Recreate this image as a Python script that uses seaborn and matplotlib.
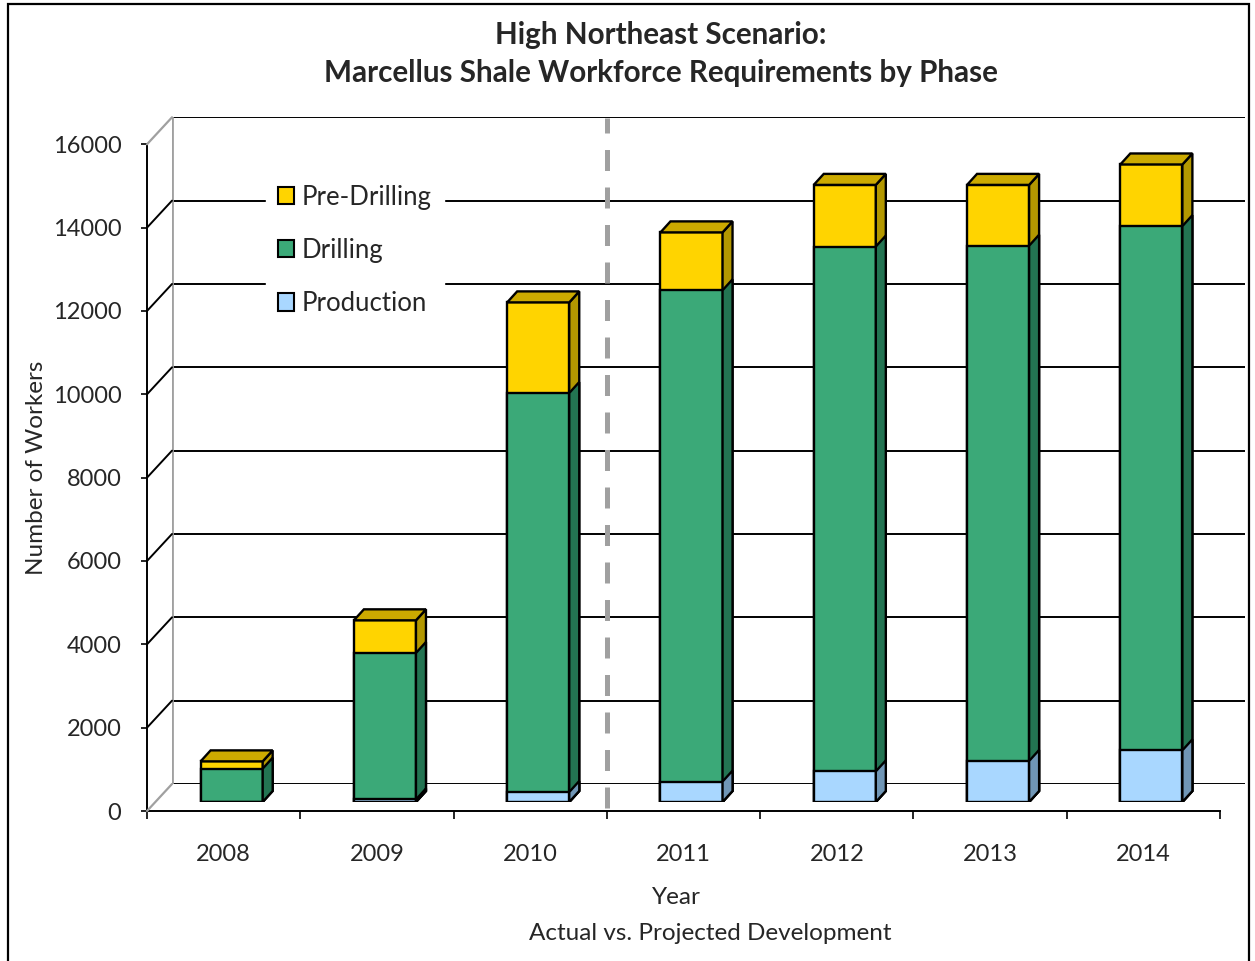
import numpy as np
import pandas as pd
import seaborn as sns
import matplotlib.pyplot as plt
import matplotlib.transforms as mtransforms
from matplotlib.patches import Polygon, Rectangle, Patch
from matplotlib.lines import Line2D

# ---- data ----
years = ['2008', '2009', '2010', '2011', '2012', '2013', '2014']
production = [0, 60, 240, 490, 735, 985, 1240]
drilling = [800, 3516, 9575, 11790, 12595, 12365, 12580]
pre_drilling = [175, 784, 2175, 1390, 1480, 1460, 1480]
y_ticks = [0, 2000, 4000, 6000, 8000, 10000, 12000, 14000, 16000]

df = pd.DataFrame({'Year': years, 'Production': production,
                   'Drilling': drilling, 'Pre-Drilling': pre_drilling})
df['drill_top'] = df['Production'] + df['Drilling']
df['total'] = df['drill_top'] + df['Pre-Drilling']

front = {'Pre-Drilling': '#FFD400', 'Drilling': '#3BA978', 'Production': '#A9D7FF'}
side = {'Pre-Drilling': '#B39800', 'Drilling': '#237452', 'Production': '#7096B6'}
top = {'Pre-Drilling': '#CCAA00'}

sns.set_theme(style='white')
plt.rcParams['font.family'] = ['Lato', 'DejaVu Sans']

W, H = 1255, 961
fig = plt.figure(figsize=(W / 100, H / 100), dpi=100)
fig.patch.set_facecolor('white')


def rect(left, bottom, width=1073, height=666.7):
    # pixel box (top-left origin for bottom) -> figure fraction
    return [left / W, 1 - bottom / H, width / W, height / H]


# back wall, bar plane, front plane (3d look via shifted axes)
ax_back = fig.add_axes(rect(172, 784))
ax = fig.add_axes(rect(155, 802))
ax_front = fig.add_axes(rect(147, 811))
for a in (ax_back, ax, ax_front):
    a.set_xlim(-0.5, 6.5)
    a.set_ylim(0, 16000)
    a.set_facecolor('none')

# back wall gridlines
for v in y_ticks:
    ax_back.axhline(v, color='black', lw=1.4, zorder=1)
ax_back.axis('off')
ax_back.axvline(-0.5, color='#A0A0A0', lw=2, zorder=1)

# side-wall diagonals
for v in y_ticks:
    p0 = ax_front.transData.transform((-0.5, v))
    p1 = ax_back.transData.transform((-0.5, v))
    c = '#A0A0A0' if v in (0, 16000) else 'black'
    fig.add_artist(Line2D([p0[0], p1[0]], [p0[1], p1[1]], color=c,
                          lw=1.6 if c != 'black' else 1.4,
                          transform=mtransforms.IdentityTransform()))

# stacked bars, drawn as overlapping cumulative layers
dx, dy = 10, 11
ident = mtransforms.IdentityTransform()
layers = [('total', 'Pre-Drilling'), ('drill_top', 'Drilling'), ('Production', 'Production')]
for col, key in layers:
    n_before = len(ax.patches)
    sns.barplot(data=df, x='Year', y=col, color=front[key], saturation=1,
                edgecolor='black', linewidth=1.7, width=0.405, errorbar=None, ax=ax)
    new_bars = ax.patches[n_before:]
    for bar in new_bars:
        x0, y0 = bar.get_x(), bar.get_y()
        x1, y1 = x0 + bar.get_width(), y0 + bar.get_height()
        if bar.get_height() <= 0:
            continue
        (ax0, ay0) = ax.transData.transform((x0, y0))
        (ax1, ay1) = ax.transData.transform((x1, y1))
        sf = Polygon([(ax1, ay0), (ax1, ay1), (ax1 + dx, ay1 + dy), (ax1 + dx, ay0 + dy)],
                     closed=True, facecolor=side[key], edgecolor='black', lw=1.7,
                     transform=ident)
        ax.add_patch(sf)
        if key in top:
            tf = Polygon([(ax0, ay1), (ax1, ay1), (ax1 + dx, ay1 + dy), (ax0 + dx, ay1 + dy)],
                         closed=True, facecolor=top[key], edgecolor='black', lw=1.7,
                         transform=ident)
            ax.add_patch(tf)
ax.set_xlim(-0.5, 6.5)
ax.set_ylim(0, 16000)
ax.axis('off')

# front axis: spines, ticks, labels
sns.despine(ax=ax_front)
ax_front.spines['left'].set_color('black')
ax_front.spines['bottom'].set_color('black')
ax_front.spines['left'].set_linewidth(1.4)
ax_front.spines['bottom'].set_linewidth(1.4)
ax_front.set_yticks(y_ticks)
ax_front.set_yticklabels([str(v) for v in y_ticks])
ax_front.set_xticks(np.arange(-0.5, 7, 1))
ax_front.set_xticklabels([])
ax_front.set_xticks(range(len(years)), minor=True)
ax_front.set_xticklabels(years, minor=True)
ax_front.tick_params(axis='y', direction='out', length=4.5, width=1.2, color='black',
                     pad=14, labelsize=17, left=True)
ax_front.tick_params(axis='x', which='major', direction='out', length=6, width=1.2,
                     color='black', bottom=True)
ax_front.tick_params(axis='x', which='minor', length=0, pad=23.5, labelsize=17)
ax_front.set_ylabel('Number of Workers', fontsize=17.5, labelpad=4)
ax_front.yaxis.label.set_y(0.515)
ax_front.set_xlabel('')

# dashed divider between actual and projected years
ax_front.plot([2.5, 2.5], [72, 16630], color='#A0A0A0', lw=3.6,
              dashes=(4.2, 3.3), clip_on=False, zorder=2)

# legend on the back wall
handles = [Patch(facecolor=front[k], edgecolor='black', lw=1.5)
           for k in ['Pre-Drilling', 'Drilling', 'Production']]
leg = fig.legend(handles, ['Pre-Drilling', 'Drilling', 'Production'],
                 loc='upper left', bbox_to_anchor=(266 / W, 1 - 173 / H),
                 frameon=True, fancybox=False, facecolor='white', edgecolor='white',
                 framealpha=1, fontsize=18.5, handlelength=0.65, handleheight=0.65,
                 handletextpad=0.3, labelspacing=1.1, borderpad=0.45, borderaxespad=0)

# titles and axis captions
fig.text(661 / W, 1 - 35 / H, 'High Northeast Scenario:', ha='center', va='center',
         fontsize=21.3, fontweight='bold')
fig.text(661 / W, 1 - 73 / H, 'Marcellus Shale Workforce Requirements by Phase',
         ha='center', va='center', fontsize=21.3, fontweight='bold')
fig.text(676 / W, 1 - 898 / H, 'Year', ha='center', va='center', fontsize=17.5)
fig.text(710 / W, 1 - 934 / H, 'Actual vs. Projected Development', ha='center',
         va='center', fontsize=17.5)

# outer chart border
fig.add_artist(Rectangle((8 / W, -0.05), 1241 / W, 1.05 - 4 / H, transform=fig.transFigure,
                         fill=False, edgecolor='black', lw=1.6))

fig.savefig('out.png', dpi=100)
